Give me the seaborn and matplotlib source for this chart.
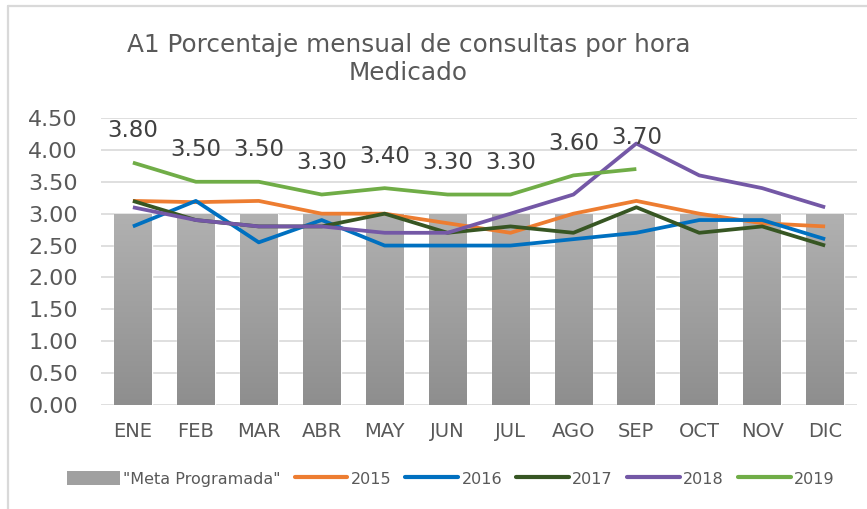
import numpy as np
import pandas as pd
import seaborn as sns
import matplotlib
matplotlib.use("Agg")
import matplotlib.pyplot as plt
from matplotlib.lines import Line2D
from matplotlib.colors import LinearSegmentedColormap

# Monthly data
months = ["ENE", "FEB", "MAR", "ABR", "MAY", "JUN", "JUL", "AGO", "SEP", "OCT", "NOV", "DIC"]
meta = [3.0] * 12
y2015 = [3.20, 3.18, 3.20, 3.00, 3.00, 2.85, 2.70, 3.00, 3.20, 3.00, 2.85, 2.80]
y2016 = [2.80, 3.20, 2.55, 2.90, 2.50, 2.50, 2.50, 2.60, 2.70, 2.90, 2.90, 2.60]
y2017 = [3.20, 2.90, 2.80, 2.80, 3.00, 2.70, 2.80, 2.70, 3.10, 2.70, 2.80, 2.50]
y2018 = [3.10, 2.90, 2.80, 2.80, 2.70, 2.70, 3.00, 3.30, 4.10, 3.60, 3.40, 3.10]
y2019 = [3.80, 3.50, 3.50, 3.30, 3.40, 3.30, 3.30, 3.60, 3.70]
yticks = [0.0, 0.5, 1.0, 1.5, 2.0, 2.5, 3.0, 3.5, 4.0, 4.5]

series = {"2015": y2015, "2016": y2016, "2017": y2017, "2018": y2018, "2019": y2019}
palette = {"2015": "#ED7D31", "2016": "#0070C0", "2017": "#375623",
           "2018": "#7458A6", "2019": "#70AD47"}

rows = []
for name, vals in series.items():
    for i, v in enumerate(vals):
        rows.append({"idx": i, "valor": v, "serie": name})
lines_df = pd.DataFrame(rows)
bars_df = pd.DataFrame({"mes": months, "meta": meta})

sns.set_theme(style="white")
plt.rcParams["font.family"] = ["DejaVu Sans"]
text_color = "#595959"

fig = plt.figure(figsize=(8.67, 5.09), dpi=100)
ax = fig.add_axes([0.117, 0.2043, 0.871, 0.5639])

# Target bars with a vertical gray gradient
sns.barplot(data=bars_df, x="mes", y="meta", order=months, color="#a6a6a6",
            width=0.6, ax=ax, zorder=2, saturation=1)
cmap = LinearSegmentedColormap.from_list("g", ["#b1b1b1", "#8e8e8e"])
grad = np.linspace(0, 1, 256).reshape(-1, 1)
for p in list(ax.patches):
    x0, y0 = p.get_x(), p.get_y()
    w, h = p.get_width(), p.get_height()
    im = ax.imshow(grad, cmap=cmap, aspect="auto",
                   extent=(x0, x0 + w, y0, y0 + h), origin="upper", zorder=2.1)
    im.set_clip_path(p)

# Yearly lines
sns.lineplot(data=lines_df, x="idx", y="valor", hue="serie", palette=palette,
             linewidth=2.7, ax=ax, legend=False, zorder=3, sort=False)
for ln in ax.lines:
    ln.set_solid_joinstyle("round")
    ln.set_solid_capstyle("butt")

# Value labels on 2019
for i, v in enumerate(y2019):
    ax.annotate(f"{v:.2f}", (i, v), xytext=(0, 23), textcoords="offset points",
                ha="center", va="center", fontsize=16.5, color="#404040", zorder=4)

ax.set_xlim(-0.5, 11.5)
ax.set_ylim(0, 4.5)
ax.set_yticks(yticks)
ax.set_yticklabels([f"{t:.2f}" for t in yticks])
ax.set_xticks(range(12))
ax.set_xticklabels(months)
ax.set_xlabel("")
ax.set_ylabel("")
ax.grid(axis="y", color="#d9d9d9", linewidth=1.2, zorder=0)
ax.grid(axis="x", visible=False)
ax.set_axisbelow(True)
for s in ax.spines.values():
    s.set_visible(False)
ax.tick_params(axis="y", length=0, pad=17, labelsize=16, labelcolor=text_color)
ax.tick_params(axis="x", length=0, pad=12, labelsize=14, labelcolor=text_color)

fig.text(0.471, 0.912, "A1 Porcentaje mensual de consultas por hora", ha="center",
         va="center", fontsize=17.8, color=text_color)
fig.text(0.471, 0.857, "Medicado", ha="center", va="center", fontsize=17.8,
         color=text_color)

# Legend
handles = [plt.Rectangle((0, 0), 1, 1, facecolor="#a0a0a0", edgecolor="none")]
labels = ['"Meta Programada"']
for name in series:
    handles.append(Line2D([0], [0], color=palette[name], linewidth=3))
    labels.append(name)
fig.legend(handles, labels, loc="center", bbox_to_anchor=(0.52, 0.059), ncol=6,
           frameon=False, fontsize=11.5, labelcolor=text_color, handlelength=3.3,
           handletextpad=0.2, columnspacing=0.9, handleheight=0.9)

# Chart frame edges
fig.add_artist(Line2D([8 / 867, 8 / 867], [0, 1 - 6 / 509], color="#d9d9d9",
                      linewidth=1.6, transform=fig.transFigure))
fig.add_artist(Line2D([8 / 867, 1], [1 - 6 / 509, 1 - 6 / 509], color="#d9d9d9",
                      linewidth=1.6, transform=fig.transFigure))

fig.savefig("out.png", dpi=100, facecolor="white")
